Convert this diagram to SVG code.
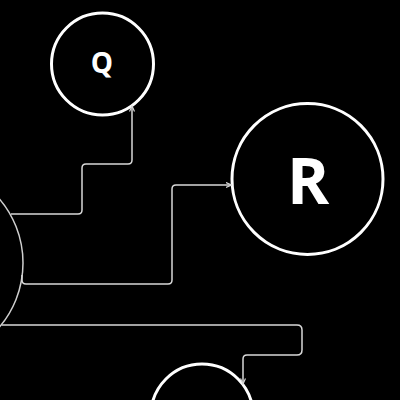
<svg xmlns="http://www.w3.org/2000/svg" width="400" height="400" viewBox="0 0 400 400">
<defs>
<style>
.node{fill:#000;stroke:#fff;stroke-width:3}
.lbl{fill:#fff;font-family:"Open Sans","DejaVu Sans",sans-serif;font-weight:bold;text-anchor:middle}
.edge{fill:none;stroke:#d8d8d8;stroke-width:1.5}
</style>
<marker id="arr" markerWidth="8" markerHeight="8" refX="6" refY="3" orient="auto" markerUnits="userSpaceOnUse">
<path d="M0.5,0.5 L6,3 L0.5,5.5" fill="none" stroke="#d8d8d8" stroke-width="1.2"/>
</marker>
</defs>
<rect width="400" height="400" fill="#000"/>
<g id="node-left"><circle cx="-76" cy="263" r="99" fill="#000" stroke="#cfcfcf" stroke-width="1.5"/></g>
<g id="node-Q"><circle class="node" cx="102.5" cy="64" r="51"/><text class="lbl" x="102" y="73" font-size="28">Q</text></g>
<g id="node-R"><circle class="node" cx="307.5" cy="179" r="75.5"/><text class="lbl" x="308" y="204" font-size="64">R</text></g>
<g id="node-bottom"><circle class="node" cx="202" cy="415" r="51"/></g>
<g id="connectors">
<path class="edge" marker-end="url(#arr)" d="M11,214 H78 Q82,214 82,210 V168 Q82,164 86,164 H128 Q132,164 132,160 V106"/>
<path class="edge" marker-end="url(#arr)" d="M22,275 V280 Q22,284 26,284 H168 Q172,284 172,280 V189 Q172,185 176,185 H231.5"/>
<path class="edge" marker-end="url(#arr)" d="M1.5,325 H297 Q302,325 302,330 V350 Q302,355 297,355 H247 Q243,355 243,359 V384"/>
</g>
</svg>
